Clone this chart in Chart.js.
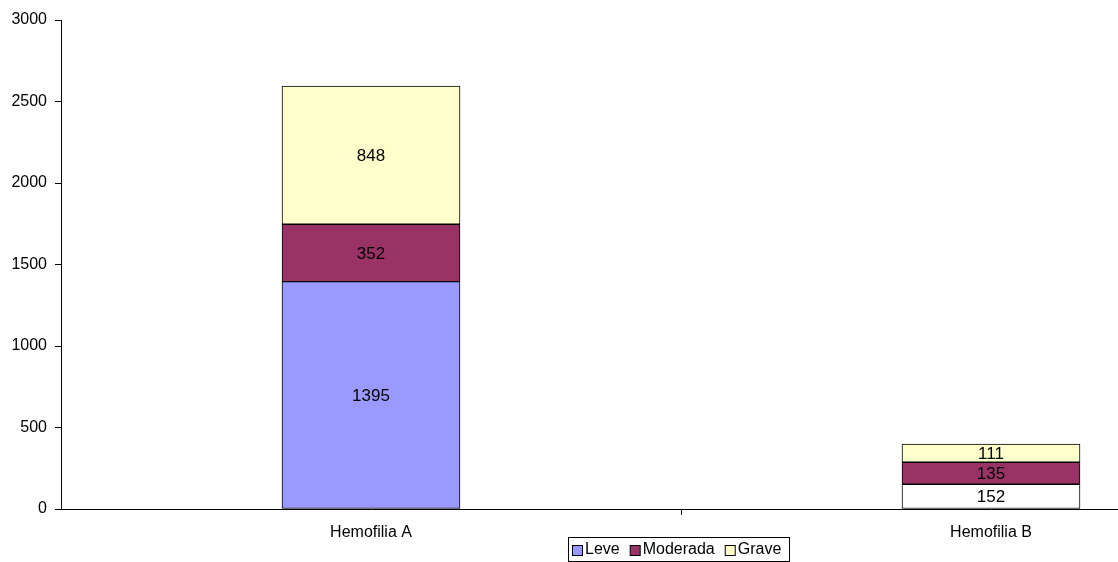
<!doctype html>
<html lang="es">
<head>
    <meta charset="utf-8">
    <title>Hemofilia</title>
    <script src="https://cdn.jsdelivr.net/npm/chart.js"></script>
    <style>
        html, body { margin: 0; padding: 0; background: #fff; overflow: hidden; }
        .wrap { width: 1118px; height: 562px; overflow: hidden; }
    </style>
</head>
<body>
    <div class="wrap">
        <canvas id="chart" width="1360" height="562" style="width:1360px;height:562px"></canvas>
    </div>
    <script>
        const categories = ['Hemofilia A', 'Hemofilia B'];
        const leve = [1395, 152];
        const moderada = [352, 135];
        const grave = [848, 111];
        const yTicks = [0, 500, 1000, 1500, 2000, 2500, 3000];

        const font = 'Arial, "Liberation Sans", sans-serif';

        // numbers in the middle of each segment
        const segmentLabels = {
            id: 'segmentLabels',
            afterDatasetsDraw(chart) {
                const ctx = chart.ctx;
                ctx.save();
                ctx.font = '17px ' + font;
                ctx.fillStyle = '#000';
                ctx.textAlign = 'center';
                ctx.textBaseline = 'middle';
                chart.data.datasets.forEach((ds, i) => {
                    chart.getDatasetMeta(i).data.forEach((bar, j) => {
                        const mid = (bar.y + bar.base) / 2;
                        ctx.fillText(String(ds.data[j]), bar.x, mid + 1);
                    });
                });
                ctx.restore();
            }
        };

        // framed legend under the axis, like the Excel one
        const boxLegend = {
            id: 'boxLegend',
            afterDraw(chart) {
                const ctx = chart.ctx;
                const ds = chart.data.datasets;
                ctx.save();
                ctx.font = '16px ' + font;
                ctx.textBaseline = 'middle';
                const box = 10, gapText = 3, gapItem = 10, pad = 4;
                const widths = ds.map(d => box + gapText + ctx.measureText(d.label).width);
                const total = widths.reduce((a, b) => a + b, 0) + gapItem * (ds.length - 1) + pad * 2 + 4;
                const cx = (chart.chartArea.left + chart.chartArea.right) / 2 - 2;
                const left = Math.round(cx - total / 2);
                const top = 537, h = 24;
                ctx.strokeStyle = '#000';
                ctx.lineWidth = 1;
                ctx.strokeRect(left + 0.5, top + 0.5, Math.round(total), h);
                let x = left + pad;
                const cy = top + h / 2 + 1;
                ds.forEach((d, i) => {
                    const fill = Array.isArray(d.backgroundColor) ? d.backgroundColor[0] : d.backgroundColor;
                    ctx.fillStyle = fill;
                    ctx.fillRect(x + 0.5, cy - 5 + 0.5, box, box);
                    ctx.strokeRect(x + 0.5, cy - 5 + 0.5, box, box);
                    ctx.fillStyle = '#000';
                    ctx.fillText(d.label, x + box + gapText, cy);
                    x += widths[i] + gapItem;
                });
                ctx.restore();
            }
        };

        new Chart(document.getElementById('chart'), {
            type: 'bar',
            data: {
                labels: categories,
                datasets: [
                    { label: 'Leve', data: leve, backgroundColor: ['#9999FF', '#FFFFFF'] },
                    { label: 'Moderada', data: moderada, backgroundColor: '#993366' },
                    { label: 'Grave', data: grave, backgroundColor: '#FFFFCC' }
                ]
            },
            options: {
                responsive: false,
                animation: false,
                devicePixelRatio: 1,
                layout: { padding: { top: 20, right: 59, left: 0, bottom: 10 } },
                datasets: {
                    bar: {
                        barThickness: 178,
                        borderColor: '#000',
                        borderWidth: 1,
                        borderSkipped: false
                    }
                },
                plugins: {
                    tooltip: { enabled: false },
                    legend: { display: false }
                },
                scales: {
                    x: {
                        stacked: true,
                        afterFit(scale) { scale.height = 43; },
                        border: { color: '#000', width: 1 },
                        grid: {
                            display: true,
                            drawOnChartArea: false,
                            drawTicks: true,
                            tickLength: 6,
                            offset: true,
                            color: (c) => c.index === 0 ? 'rgba(0,0,0,0)' : '#000'
                        },
                        ticks: { font: { family: font, size: 16 }, color: '#000', padding: 8 }
                    },
                    y: {
                        stacked: true,
                        min: 0,
                        max: 3000,
                        afterBuildTicks(scale) { scale.ticks = yTicks.map(v => ({ value: v })); },
                        afterFit(scale) { scale.width = 61; },
                        border: { color: '#000', width: 1 },
                        grid: { display: true, drawOnChartArea: false, drawTicks: true, tickLength: 6, color: '#000' },
                        ticks: {
                            font: { family: font, size: 16 },
                            color: '#000',
                            padding: 8,
                            callback: (v) => String(v)
                        }
                    }
                }
            },
            plugins: [segmentLabels, boxLegend]
        });
    </script>
</body>
</html>
